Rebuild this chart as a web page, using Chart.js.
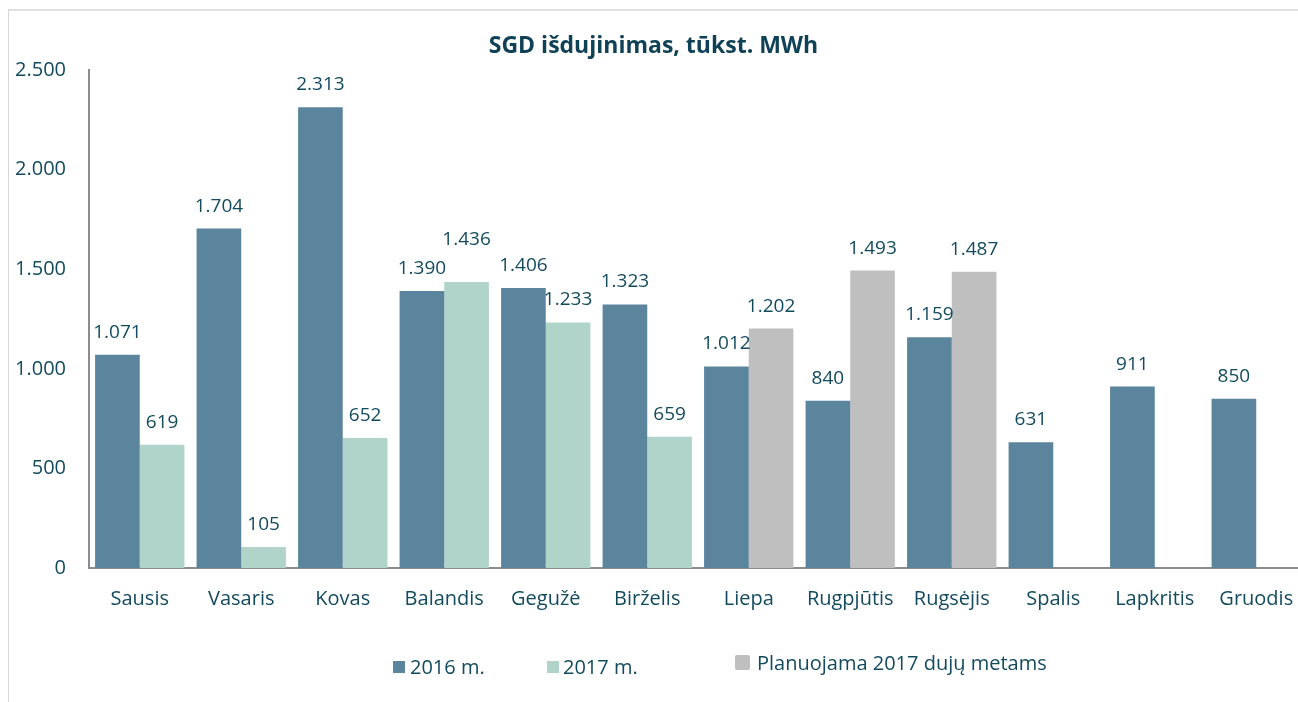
<!DOCTYPE html>
<html>
<head>
<meta charset="utf-8">
<script src="https://cdn.jsdelivr.net/npm/chart.js@4.4.1/dist/chart.umd.min.js"></script>
<style>
  html, body { margin: 0; padding: 0; background: #fff; overflow: hidden; width: 1298px; height: 702px; }
  #frame { position: absolute; left: 8px; top: 9px; width: 1400px; height: 800px; border-left: 1px solid #d6d6d6; border-top: 2px solid #e0e0e0; }
  #wrap { position: absolute; left: 0; top: 0; width: 1316px; height: 702px; }
  .lg { position: absolute; font-family: "Open Sans", sans-serif; font-size: 20px; color: #134b5e; white-space: nowrap; line-height: 24px; }
  .sw { position: absolute; }
</style>
</head>
<body>
<div id="frame"></div>
<div id="wrap"><canvas id="c"></canvas></div>
<div class="sw" style="left:393px;top:661px;width:12px;height:12px;background:#5b849d;"></div>
<div class="lg" style="left:410px;top:655px;">2016 m.</div>
<div class="sw" style="left:547px;top:661px;width:12px;height:12px;background:#b0d3ca;"></div>
<div class="lg" style="left:563px;top:655px;">2017 m.</div>
<div class="sw" style="left:735px;top:655px;width:15px;height:15px;background:#bfbfbf;border-radius:2px;"></div>
<div class="lg" style="left:757px;top:651px;">Planuojama 2017 dujų metams</div>
<script>
const categories = ['Sausis','Vasaris','Kovas','Balandis','Gegužė','Birželis','Liepa','Rugpjūtis','Rugsėjis','Spalis','Lapkritis','Gruodis'];
const values2016 = [1071, 1704, 2313, 1390, 1406, 1323, 1012, 840, 1159, 631, 911, 850];
const values2017 = [619, 105, 652, 1436, 1233, 659, null, null, null, null, null, null];
const valuesPlanned = [null, null, null, null, null, null, 1202, 1493, 1487, null, null, null];
const yTicks = [0, 500, 1000, 1500, 2000, 2500];

const textColor = '#134b5e';
const fmt = v => String(v).replace(/\B(?=(\d{3})+(?!\d))/g, '.');

const valueLabels = {
  id: 'valueLabels',
  afterDatasetsDraw(chart) {
    const ctx = chart.ctx;
    ctx.save();
    ctx.font = '19px "Open Sans", sans-serif';
    ctx.fillStyle = textColor;
    ctx.textAlign = 'center';
    ctx.textBaseline = 'alphabetic';
    const placed = [];
    const h = 22;
    chart.data.datasets.forEach((ds, di) => {
      const meta = chart.getDatasetMeta(di);
      meta.data.forEach((el, i) => {
        const v = ds.data[i];
        if (v === null || v === undefined) return;
        const txt = fmt(v);
        const w = ctx.measureText(txt).width;
        let y = el.y - 17;
        placed.forEach(p => {
          const xOver = (el.x - w / 2) < (p.x + p.w / 2) && (el.x + w / 2) > (p.x - p.w / 2);
          const yOver = Math.abs(y - p.y) < h;
          if (xOver && yOver) y = Math.min(y, p.y - 29);
        });
        placed.push({ x: el.x, y, w });
        ctx.fillText(txt, el.x, y);
      });
    });
    ctx.restore();
  }
};

new Chart(document.getElementById('c'), {
  type: 'bar',
  data: {
    labels: categories,
    datasets: [
      { label: '2016 m.', data: values2016, backgroundColor: '#5b849d', stack: 'a' },
      { label: '2017 m.', data: values2017, backgroundColor: '#b0d3ca', stack: 'b' },
      { label: 'Planuojama 2017 dujų metams', data: valuesPlanned, backgroundColor: '#bfbfbf', stack: 'b' }
    ]
  },
  options: {
    responsive: true,
    maintainAspectRatio: false,
    animation: false,
    layout: { padding: { left: 0, right: 9, top: 0, bottom: 0 } },
    datasets: { bar: { categoryPercentage: 0.88, barPercentage: 1.0, borderWidth: 0 } },
    plugins: {
      legend: { display: false },
      tooltip: { enabled: false },
      title: {
        display: true,
        text: 'SGD išdujinimas, tūkst. MWh',
        color: '#0f4257',
        font: { family: '"Open Sans", sans-serif', size: 23, weight: 'bold' },
        padding: { top: 33, bottom: 9.4 }
      }
    },
    scales: {
      x: {
        grid: { display: false, drawTicks: false },
        border: { display: true, color: '#8c8c8c', width: 2 },
        ticks: { color: textColor, font: { family: '"Open Sans", sans-serif', size: 20 }, padding: 19, maxRotation: 0, autoSkip: false },
        afterFit(scale) { scale.height = 134; }
      },
      y: {
        min: 0, max: 2500,
        grid: { display: false, drawTicks: false },
        border: { display: true, color: '#8c8c8c', width: 2 },
        afterBuildTicks(scale) { scale.ticks = yTicks.map(v => ({ value: v })); },
        ticks: { color: textColor, font: { family: '"Open Sans", sans-serif', size: 20 }, padding: 23, callback: v => fmt(v) },
        afterFit(scale) { scale.width = 89; }
      }
    }
  },
  plugins: [valueLabels]
});
</script>
</body>
</html>
